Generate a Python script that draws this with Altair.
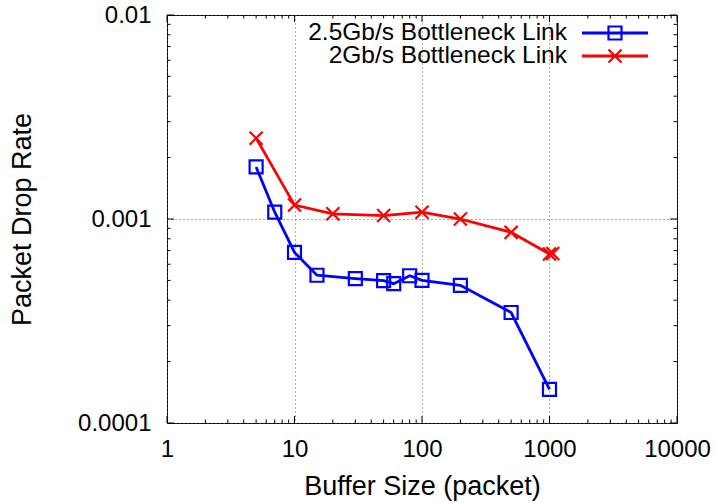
import altair as alt
import pandas as pd

# ---- data ----
series_names = ["2.5Gb/s Bottleneck Link", "2Gb/s Bottleneck Link"]
series_colors = ["#0000ff", "#ff0000"]

buf_25 = [5, 7, 10, 15, 30, 50, 60, 80, 100, 200, 500, 1000]
drop_25 = [0.0018, 0.00108, 0.000686, 0.00053, 0.00051, 0.000499, 0.000482,
           0.000527, 0.0005, 0.000473, 0.000348, 0.000146]

buf_2 = [5, 10, 20, 50, 100, 200, 500, 1000, 1060]
drop_2 = [0.00249, 0.00117, 0.00106, 0.00104, 0.00108, 0.001, 0.00086,
          0.000674, 0.000678]

x_major = [1, 10, 100, 1000, 10000]
y_major = [0.0001, 0.001, 0.01]

# ---- layout / style ----
W, H = 510, 408
FONT = "Liberation Sans"
SQUARE = "M-1,-1H1V1H-1Z"
XMARK = "M-1,-1L1,1M1,-1L-1,1"

df = pd.DataFrame({
    "buffer": buf_25 + buf_2,
    "drop": drop_25 + drop_2,
    "series": [series_names[0]] * len(buf_25) + [series_names[1]] * len(buf_2),
})

x_minor = [d * k for d in x_major[:-1] for k in range(2, 10)]
y_minor = [d * k for d in y_major[:-1] for k in range(2, 10)]

xscale = alt.Scale(type="log", domain=[1, 10000], nice=False)
yscale = alt.Scale(type="log", domain=[0.0001, 0.01], nice=False)
color_scale = alt.Scale(domain=series_names, range=series_colors)
shape_scale = alt.Scale(domain=series_names, range=[SQUARE, XMARK])

xaxis = alt.Axis(values=x_major, format="d", title="Buffer Size (packet)",
                 grid=True, ticks=False, domain=False, labelFlush=False,
                 labelPadding=14, titlePadding=12)
yaxis = alt.Axis(values=y_major, format=".4~f", title="Packet Drop Rate",
                 grid=True, ticks=False, domain=False, labelFlush=False,
                 labelPadding=16, titlePadding=41)

lines = alt.Chart(df).mark_line(strokeWidth=2.8).encode(
    x=alt.X("buffer:Q", scale=xscale, axis=xaxis),
    y=alt.Y("drop:Q", scale=yscale, axis=yaxis),
    color=alt.Color("series:N", scale=color_scale, legend=None),
    detail="series:N",
)

points = alt.Chart(df).mark_point(size=169, strokeWidth=2.2, filled=False, opacity=1).encode(
    x=alt.X("buffer:Q", scale=xscale, axis=xaxis),
    y=alt.Y("drop:Q", scale=yscale, axis=yaxis),
    color=alt.Color("series:N", scale=color_scale, legend=None),
    shape=alt.Shape("series:N", scale=shape_scale, legend=None),
)


def xticks(vals, length):
    d = pd.DataFrame({"buffer": vals})
    bottom = alt.Chart(d).mark_rule(color="black", strokeWidth=1).encode(
        x=alt.X("buffer:Q", scale=xscale, axis=xaxis),
        y=alt.value(H), y2=alt.value(H - length))
    top = alt.Chart(d).mark_rule(color="black", strokeWidth=1).encode(
        x=alt.X("buffer:Q", scale=xscale, axis=xaxis),
        y=alt.value(0), y2=alt.value(length))
    return [bottom, top]


def yticks(vals, length):
    d = pd.DataFrame({"drop": vals})
    left = alt.Chart(d).mark_rule(color="black", strokeWidth=1).encode(
        y=alt.Y("drop:Q", scale=yscale, axis=yaxis),
        x=alt.value(0), x2=alt.value(length))
    right = alt.Chart(d).mark_rule(color="black", strokeWidth=1).encode(
        y=alt.Y("drop:Q", scale=yscale, axis=yaxis),
        x=alt.value(W), x2=alt.value(W - length))
    return [left, right]


tick_layers = (xticks(x_major, 7) + xticks(x_minor, 3.5)
               + yticks(y_major, 7) + yticks(y_minor, 3.5))

# ---- legend (top right, label left of sample) ----
leg_df = pd.DataFrame({"series": series_names})
leg_rows = [18, 41]
leg_shapes = [SQUARE, XMARK]
legend_layers = []
for i, name in enumerate(series_names):
    sub = alt.Chart(leg_df).transform_filter(alt.datum.series == name)
    legend_layers.append(sub.mark_text(align="right", baseline="middle", font=FONT,
                                       fontSize=24.5, color="black").encode(
        text="series:N", x=alt.value(400), y=alt.value(leg_rows[i])))
    legend_layers.append(sub.mark_rule(strokeWidth=2.8, color=series_colors[i]).encode(
        x=alt.value(415), x2=alt.value(481), y=alt.value(leg_rows[i])))
    legend_layers.append(sub.mark_point(size=169, strokeWidth=2.2, filled=False, opacity=1,
                                        color=series_colors[i]).encode(
        x=alt.value(448), y=alt.value(leg_rows[i]), shape=alt.value(leg_shapes[i])))

chart = alt.layer(lines, *tick_layers, points, *legend_layers).properties(
    width=W, height=H,
    autosize=alt.AutoSizeParams(type="none"),
    padding={"left": 167, "top": 15, "right": 40, "bottom": 80},
    background="white",
).configure_view(
    stroke="black", strokeWidth=1
).configure_axis(
    labelFont=FONT, labelFontSize=24, labelColor="black",
    titleFont=FONT, titleFontSize=27, titleColor="black", titleFontWeight="normal",
    gridColor="#555555", gridDash=[1, 3], gridWidth=1, gridOpacity=1,
)

chart.save("out.html", embed_options={"renderer": "svg", "actions": False})
